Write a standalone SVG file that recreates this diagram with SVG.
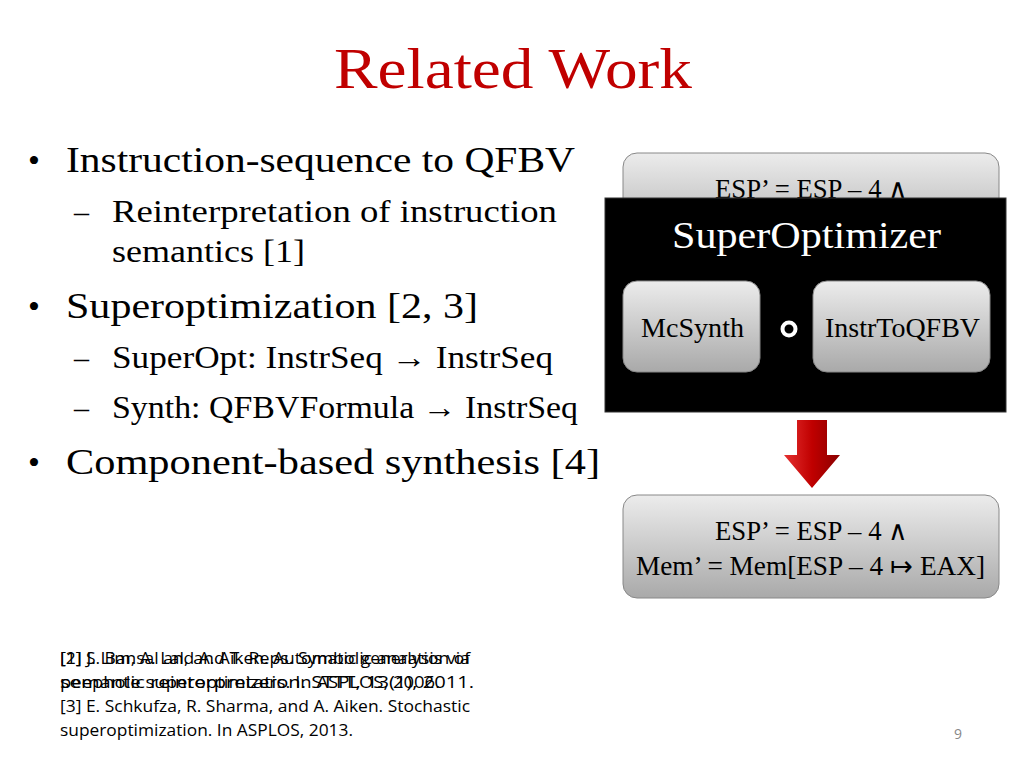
<svg xmlns="http://www.w3.org/2000/svg" width="1024" height="768" viewBox="0 0 1024 768">
<defs>
<linearGradient id="g" x1="0" y1="0" x2="0" y2="1"><stop offset="0" stop-color="#ececec"/><stop offset="1" stop-color="#a9a9a9"/></linearGradient>
<linearGradient id="r" x1="0" y1="0" x2="1" y2="0"><stop offset="0" stop-color="#e53030"/><stop offset="0.5" stop-color="#c00000"/><stop offset="1" stop-color="#8a0000"/></linearGradient>
<style>
.s{font-family:"Liberation Serif",serif;fill:#000}
.f{font-family:"Open Sans","Liberation Sans",sans-serif;font-size:16px;fill:#000}
.box{fill:url(#g);stroke:#888;stroke-width:1}
</style>
</defs>
<rect width="1024" height="768" fill="#fff"/>
<text x="334" y="88" textLength="358" lengthAdjust="spacingAndGlyphs" font-family="Liberation Serif,serif" font-size="58" fill="#c00000">Related Work</text>
<g class="s" lengthAdjust="spacingAndGlyphs">
<text x="28" y="172" font-size="34">•</text><text x="66" y="172" font-size="35" textLength="509" lengthAdjust="spacingAndGlyphs">Instruction-sequence to QFBV</text>
<text x="74" y="222" font-size="30">–</text><text x="112" y="222" font-size="31" textLength="445" lengthAdjust="spacingAndGlyphs">Reinterpretation of instruction</text>
<text x="112" y="262" font-size="31" textLength="193" lengthAdjust="spacingAndGlyphs">semantics [1]</text>
<text x="28" y="318" font-size="34">•</text><text x="66" y="318" font-size="35" textLength="412" lengthAdjust="spacingAndGlyphs">Superoptimization [2, 3]</text>
<text x="74" y="368" font-size="30">–</text><text x="112" y="368" font-size="31" textLength="441" lengthAdjust="spacingAndGlyphs">SuperOpt: InstrSeq → InstrSeq</text>
<text x="74" y="418" font-size="30">–</text><text x="112" y="418" font-size="31" textLength="466" lengthAdjust="spacingAndGlyphs">Synth: QFBVFormula → InstrSeq</text>
<text x="28" y="474" font-size="34">•</text><text x="66" y="474" font-size="35" textLength="534" lengthAdjust="spacingAndGlyphs">Component-based synthesis [4]</text>
</g>
<g id="input"><rect class="box" x="623" y="153" width="376" height="100" rx="14"/><text class="s" x="715" y="198" font-size="27" textLength="193" lengthAdjust="spacingAndGlyphs">ESP’ = ESP – 4 ∧</text></g>
<g id="superoptimizer">
<rect x="605" y="198" width="401" height="214" fill="#000" stroke="#333"/>
<text x="672" y="248" textLength="269" lengthAdjust="spacingAndGlyphs" font-family="Liberation Serif,serif" font-size="37" fill="#fff">SuperOptimizer</text>
</g>
<g id="mcsynth"><rect class="box" x="623" y="281" width="137" height="91" rx="14"/><text class="s" x="641" y="337" font-size="27" textLength="103" lengthAdjust="spacingAndGlyphs">McSynth</text></g>
<g id="instr"><rect class="box" x="813" y="281" width="177" height="91" rx="14"/><text class="s" x="825" y="337" font-size="27" textLength="155" lengthAdjust="spacingAndGlyphs">InstrToQFBV</text></g>
<g id="connectors">
<circle cx="789" cy="329" r="6.5" fill="none" stroke="#fff" stroke-width="4"/>
<path d="M797 420 H827 V455 H840 L812 488 L784 455 H797 Z" fill="url(#r)"/>
</g>
<g id="output"><rect class="box" x="623" y="495" width="376" height="103" rx="14"/>
<text class="s" x="715" y="540" font-size="27" textLength="193" lengthAdjust="spacingAndGlyphs">ESP’ = ESP – 4 ∧</text>
<text class="s" x="636" y="575" font-size="27" textLength="349" lengthAdjust="spacingAndGlyphs">Mem’ = Mem[ESP – 4 ↦ EAX]</text></g>
<g class="f">
<text x="60" y="664" textLength="410" lengthAdjust="spacingAndGlyphs">[1] J. Lim, A. Lal, and T. Reps. Symbolic analysis via</text>
<text x="60" y="664" textLength="410" lengthAdjust="spacingAndGlyphs">[2] S. Bansal and A. Aiken. Automatic generation of</text>
<text x="60" y="688" textLength="414" lengthAdjust="spacingAndGlyphs">semantic reinterpretation. STTT, 13(1), 2011.</text>
<text x="60" y="688" textLength="380" lengthAdjust="spacingAndGlyphs">peephole superoptimizers. In ASPLOS, 2006.</text>
<text x="60" y="712" textLength="410" lengthAdjust="spacingAndGlyphs">[3] E. Schkufza, R. Sharma, and A. Aiken. Stochastic</text>
<text x="60" y="736" textLength="293" lengthAdjust="spacingAndGlyphs">superoptimization. In ASPLOS, 2013.</text>
</g>
<text x="958" y="739" font-family="Open Sans,sans-serif" font-size="14" fill="#888" text-anchor="middle">9</text>
</svg>
